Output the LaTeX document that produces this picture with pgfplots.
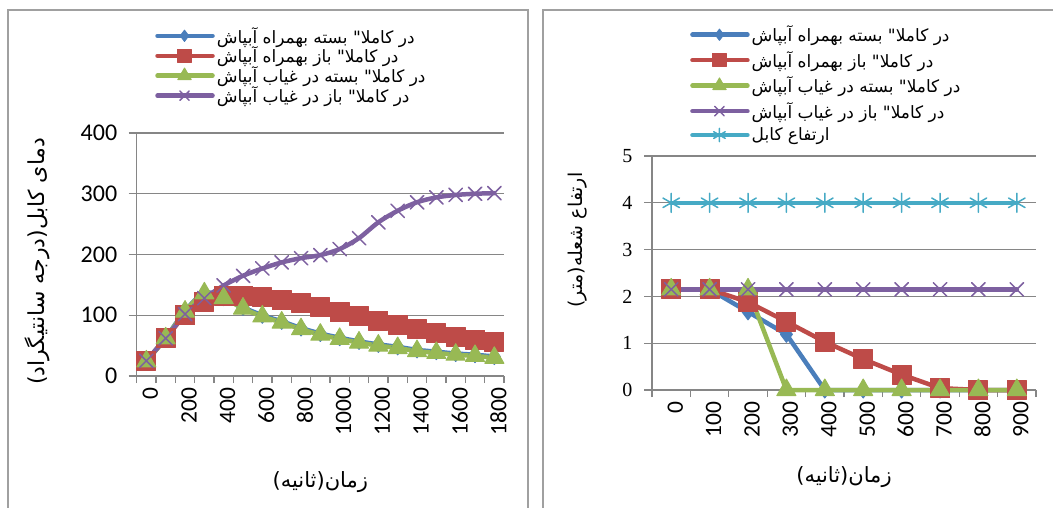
\documentclass[border=0pt]{standalone}
\usepackage{fontspec}
\setmainfont{Liberation Serif}
\newfontfamily\carlito{Carlito}
\newfontfamily\arabicfont[Script=Arabic]{DejaVu Sans}
\usepackage{pgfplots}
\pgfplotsset{compat=1.18}
\TeXXeTstate=1
\definecolor{cblue}{HTML}{4A7EBB}
\definecolor{cred}{HTML}{BE4B48}
\definecolor{cgreen}{HTML}{98B954}
\definecolor{cpurple}{HTML}{7D60A0}
\definecolor{ccyan}{HTML}{46AAC5}
\definecolor{cgrid}{HTML}{868686}
\definecolor{cframe}{HTML}{A0A0A0}
\pgfplotsset{
  common/.style={
    scale only axis, clip=false,
    axis x line*=bottom, axis y line*=left,
    axis line style={draw=cgrid, line width=1.3pt},
    ymajorgrids, grid style={draw=cgrid, line width=1.3pt},
    xtick align=outside, ytick align=outside,
    major tick length=8pt, minor tick length=7pt,
    every tick/.style={draw=cgrid, line width=1.3pt},
    major x tick style={draw=none},
    /pgf/number format/1000 sep={},
    /pgf/number format/assume math mode=true,
    xticklabel style={rotate=90, anchor=east, yshift=-4pt, font=\carlito\fontsize{23.5}{26}\selectfont},
    legend cell align=left,
    legend image code/.code={\draw[mark repeat=2,mark phase=2,#1,/tikz/every mark/.append style={scale=0.7}] plot coordinates {(0pt,0pt) (27pt,0pt) (55pt,0pt)};},
  },
  lb/.style={cblue, line width=4.5pt, line join=round, line cap=round, mark=diamond*, mark size=8pt, mark options={solid, fill=cblue, draw=cblue, line width=1pt}},
  lr/.style={cred, line width=4.5pt, line join=round, line cap=round, mark=square*, mark size=9.5pt, mark options={solid, fill=cred, draw=cred, line width=1pt}},
  lg/.style={cgreen, line width=4.5pt, line join=round, line cap=round, mark=triangle*, mark size=11pt, mark options={solid, fill=cgreen, draw=cgreen, line width=1pt}},
  lp/.style={cpurple, line width=4.5pt, line join=round, line cap=round, mark=x, mark size=9.5pt, mark options={solid, draw=cpurple, line width=1.5pt}},
  lc/.style={ccyan, line width=4.5pt, line join=round, line cap=round, mark=asterisk, mark size=9.5pt, mark options={solid, draw=ccyan, line width=1.5pt}},
}
\begin{document}
\begin{tikzpicture}[x=1pt,y=1pt]
\useasboundingbox (0,0) rectangle (1053,507);
\draw[cframe, line width=1.3pt] (8,-20) -- (8,497) -- (528,497) -- (528,-20);
\draw[cframe, line width=1.3pt] (543,-20) -- (543,497) -- (1070,497);

\begin{axis}[common,
  at={(136.7pt,131pt)}, anchor=south west,
  width=367.3pt, height=243pt,
  xmin=-50, xmax=1850, ymin=0, ymax=400,
  xtick={0,200,...,1800},
  minor xtick={-50,50,...,1850},
  ytick={0,100,...,400},
  yticklabel style={xshift=-8pt, font=\carlito\fontsize{24}{26}\selectfont},
  xlabel={\beginR زمان(ثانیه)\endR},
  xlabel style={font=\arabicfont\fontsize{21}{24}\selectfont, at={(axis description cs:0.5,-0.436)}, anchor=center},
  ylabel={\beginR دمای کابل(درجه سانتیگراد)\endR},
  ylabel style={font=\arabicfont\fontsize{22}{24}\selectfont, at={(axis description cs:-0.271,0.473)}, anchor=center},
  legend style={at={(axis description cs:0.05,1.445)}, anchor=north west, draw=none, fill=none,
    font=\arabicfont\fontsize{17}{19}\selectfont, row sep=-1.5pt, inner sep=0pt},
]
\addplot[lb, smooth] coordinates {(0,25) (100,63) (200,107) (300,137) (400,129) (500,113) (600,100) (700,90) (800,79) (900,70) (1000,63) (1100,57) (1200,52) (1300,48) (1400,43) (1500,40) (1600,37) (1700,35) (1800,32)};
\addlegendentry{\beginR در کاملا" بسته بهمراه  آبپاش\endR}
\addplot[lr, smooth] coordinates {(0,25) (100,62) (200,100) (300,122) (400,132) (500,132) (600,130) (700,125) (800,120) (900,113) (1000,105) (1100,98) (1200,91) (1300,84) (1400,77) (1500,70) (1600,65) (1700,60) (1800,56)};
\addlegendentry{\beginR در کاملا" باز بهمراه  آبپاش\endR}
\addplot[lg, smooth] coordinates {(0,24) (100,62) (200,106) (300,136) (400,128) (500,111) (600,98) (700,88) (800,77) (900,68) (1000,61) (1100,55) (1200,50) (1300,46) (1400,41) (1500,38) (1600,35) (1700,33) (1800,30)};
\addlegendentry{\beginR در کاملا" بسته در غیاب  آبپاش\endR}
\addplot[lp, smooth] coordinates {(0,25) (100,62) (200,102) (300,128) (400,149) (500,165) (600,177) (700,187) (800,194) (900,199) (1000,209) (1100,227) (1200,253) (1300,272) (1400,286) (1500,294) (1600,298) (1700,300) (1800,301)};
\addlegendentry{\beginR در کاملا" باز در غیاب  آبپاش\endR}
\end{axis}

\begin{axis}[common,
  at={(652pt,117pt)}, anchor=south west,
  width=384pt, height=234pt,
  xmin=-50, xmax=950, ymin=0, ymax=5,
  xtick={0,100,...,900},
  minor xtick={-50,50,...,950},
  ytick={0,1,...,5},
  yticklabel style={xshift=-8pt, font=\fontsize{20}{22}\selectfont},
  xlabel={\beginR زمان(ثانیه)\endR},
  xlabel style={font=\arabicfont\fontsize{21}{24}\selectfont, at={(axis description cs:0.5,-0.372)}, anchor=center},
  ylabel={\beginR ارتفاع شعله(متر)\endR},
  ylabel style={font=\arabicfont\fontsize{19}{22}\selectfont, at={(axis description cs:-0.195,0.64)}, anchor=center},
  legend style={at={(axis description cs:0.099,1.565)}, anchor=north west, draw=none, fill=none,
    font=\arabicfont\fontsize{17}{19}\selectfont, row sep=4pt, inner sep=0pt},
]
\addplot[lb] coordinates {(0,2.15) (100,2.15) (200,1.67) (300,1.19) (400,0) (500,0) (600,0) (700,0) (800,0) (900,0)};
\addlegendentry{\beginR در کاملا" بسته بهمراه آبپاش\endR}
\addplot[lr] coordinates {(0,2.15) (100,2.15) (200,1.88) (300,1.46) (400,1.03) (500,0.66) (600,0.33) (700,0.04) (800,0) (900,0)};
\addlegendentry{\beginR در کاملا" باز بهمراه آبپاش\endR}
\addplot[lg] coordinates {(0,2.15) (100,2.15) (200,2.15) (300,0) (400,0) (500,0) (600,0) (700,0) (800,0) (900,0)};
\addlegendentry{\beginR در کاملا" بسته در غیاب آبپاش\endR}
\addplot[lp] coordinates {(0,2.15) (100,2.15) (200,2.15) (300,2.15) (400,2.15) (500,2.15) (600,2.15) (700,2.15) (800,2.15) (900,2.15)};
\addlegendentry{\beginR در کاملا" باز در غیاب آبپاش\endR}
\addplot[lc] coordinates {(0,4) (100,4) (200,4) (300,4) (400,4) (500,4) (600,4) (700,4) (800,4) (900,4)};
\addlegendentry{\beginR ارتفاع کابل\endR}
\end{axis}
\end{tikzpicture}
\end{document}
